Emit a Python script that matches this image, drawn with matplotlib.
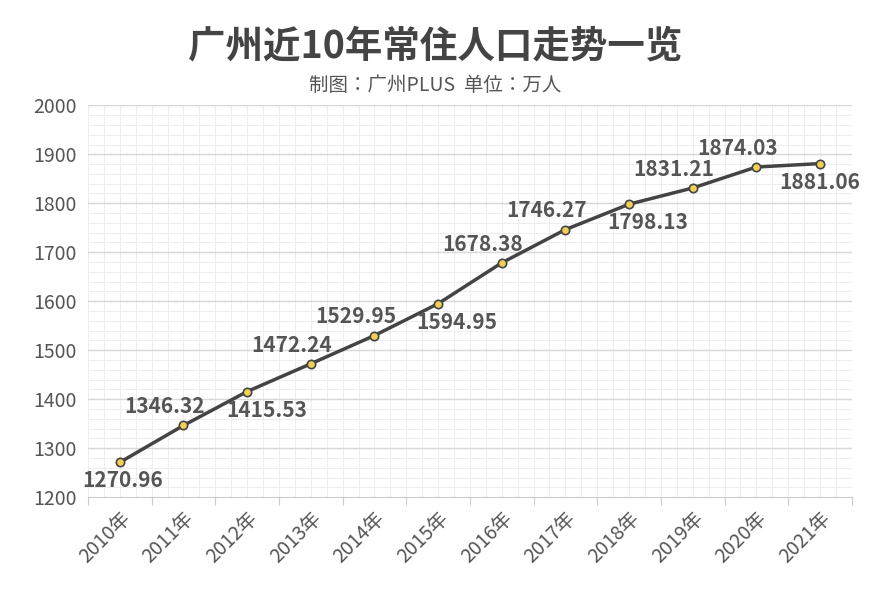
import numpy as np
import matplotlib.pyplot as plt
from matplotlib import font_manager
from matplotlib.ticker import MultipleLocator

names = sorted({f.name for f in font_manager.fontManager.ttflist})
cjk = [n for n in names if "CJK" in n and "Sans" in n]
cjk = ["Noto Sans CJK SC"] if "Noto Sans CJK SC" in cjk else cjk[:1]
plt.rcParams["font.family"] = cjk + ["DejaVu Sans"]

years = ["2010年", "2011年", "2012年", "2013年", "2014年", "2015年",
         "2016年", "2017年", "2018年", "2019年", "2020年", "2021年"]
population = [1270.96, 1346.32, 1415.53, 1472.24, 1529.95, 1594.95,
              1678.38, 1746.27, 1798.13, 1831.21, 1874.03, 1881.06]
# label placement: +1 above, -1 below
label_side = [-1, 1, -1, 1, 1, -1, 1, 1, -1, 1, 1, -1]

fig = plt.figure(figsize=(8.71, 6.16), dpi=100)
ax = fig.add_axes([0.101, 0.193, 0.877, 0.636])

x = np.arange(len(years)) + 0.5
ax.plot(x, population, color="#444444", lw=2.5, zorder=3,
        marker="o", ms=6, mfc="#f2cf55", mec="#444444", mew=1.2)

for i, (xi, v, s) in enumerate(zip(x, population, label_side)):
    dx = -0.3 if s > 0 else 0.3
    if i == 0:
        dx = 0.05
    if i == len(years) - 1:
        dx = 0.0
    ax.annotate(f"{v:.2f}", (xi, v), xytext=(xi + dx, v + s * 38),
                ha="center", va="center", fontsize=15, fontweight="bold",
                color="#555555", zorder=4)

ax.set_xlim(0, len(years))
ax.set_ylim(1200, 2000)
ax.set_xticks(np.arange(len(years) + 1))
ax.set_xticklabels([])
ax.set_xticks(x, minor=True)
ax.set_xticklabels(years, minor=True, rotation=45, ha="right",
                   rotation_mode="anchor", fontsize=14, color="#555555")
ax.tick_params(axis="x", which="minor", length=0, pad=8)
ax.tick_params(axis="x", which="major", length=6, color="#cccccc")
ax.yaxis.set_major_locator(MultipleLocator(100))
ax.tick_params(axis="y", length=0, labelsize=14, labelcolor="#555555", pad=8)

# fine background grid
for gx in np.arange(0, len(years) + 0.01, 0.25):
    ax.axvline(gx, color="#eeeeee", lw=0.8, zorder=0)
for gy in np.arange(1200, 2001, 20):
    ax.axhline(gy, color="#eeeeee", lw=0.8, zorder=0)
for gy in np.arange(1300, 2001, 100):
    ax.axhline(gy, color="#d8d8d8", lw=1, zorder=1)

for sp in ["top", "right", "left"]:
    ax.spines[sp].set_visible(False)
ax.spines["bottom"].set_color("#cccccc")

fig.text(0.5, 0.925, "广州近10年常住人口走势一览", ha="center", va="center",
         fontsize=27, fontweight="bold", color="#444444")
fig.text(0.5, 0.862, "制图：广州PLUS  单位：万人", ha="center", va="center",
         fontsize=14, color="#555555")

fig.savefig("out.png", dpi=100)
